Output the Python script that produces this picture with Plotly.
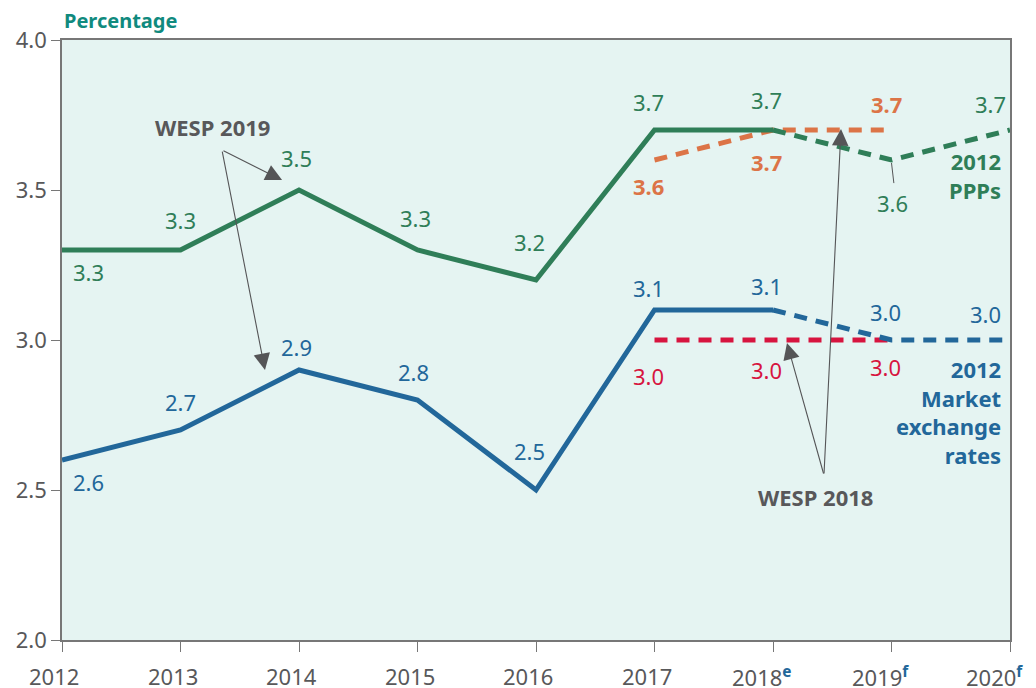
import plotly.graph_objects as go

years = [2012, 2013, 2014, 2015, 2016, 2017, 2018, 2019, 2020]
tick_labels = ["2012", "2013", "2014", "2015", "2016", "2017",
               "2018<sup><b><span style='color:#22679a'>e</span></b></sup>",
               "2019<sup><b><span style='color:#22679a'>f</span></b></sup>",
               "2020<sup><b><span style='color:#22679a'>f</span></b></sup>"]

# WESP 2019, 2012 PPPs
ppp_years = [2012, 2013, 2014, 2015, 2016, 2017, 2018]
ppp_vals = [3.3, 3.3, 3.5, 3.3, 3.2, 3.7, 3.7]
ppp_fc_years = [2018, 2019, 2020]
ppp_fc_vals = [3.7, 3.6, 3.7]

# WESP 2019, 2012 market exchange rates
mer_years = [2012, 2013, 2014, 2015, 2016, 2017, 2018]
mer_vals = [2.6, 2.7, 2.9, 2.8, 2.5, 3.1, 3.1]
mer_fc_years = [2018, 2019, 2020]
mer_fc_vals = [3.1, 3.0, 3.0]

# WESP 2018
w18_years = [2017, 2018, 2019]
w18_ppp_vals = [3.6, 3.7, 3.7]
w18_mer_vals = [3.0, 3.0, 3.0]

GREEN = "#2f7e58"
BLUE = "#22679a"
ORANGE = "#dc7447"
RED = "#d7143f"
GRAY = "#58585a"
TEAL = "#108a7e"
FONT = "Noto Sans"

fig = go.Figure()
dash = "13px,9px"
fig.add_trace(go.Scatter(x=w18_years, y=w18_ppp_vals, mode="lines",
                         line=dict(color=ORANGE, width=5, dash=dash), hoverinfo="skip"))
fig.add_trace(go.Scatter(x=w18_years, y=w18_mer_vals, mode="lines",
                         line=dict(color=RED, width=5, dash=dash), hoverinfo="skip"))
fig.add_trace(go.Scatter(x=ppp_fc_years, y=ppp_fc_vals, mode="lines",
                         line=dict(color=GREEN, width=5, dash=dash), hoverinfo="skip"))
fig.add_trace(go.Scatter(x=mer_fc_years, y=mer_fc_vals, mode="lines",
                         line=dict(color=BLUE, width=5, dash=dash), hoverinfo="skip"))
fig.add_trace(go.Scatter(x=ppp_years, y=ppp_vals, mode="lines",
                         line=dict(color=GREEN, width=5), hoverinfo="skip"))
fig.add_trace(go.Scatter(x=mer_years, y=mer_vals, mode="lines",
                         line=dict(color=BLUE, width=5), hoverinfo="skip"))

ann = []

def lab(x, y, color, dx, dy, bold=False):
    t = f"{y:.1f}"
    if bold:
        t = f"<b>{t}</b>"
    ann.append(dict(x=x, y=y, xref="x", yref="y", text=t, showarrow=False,
                    xshift=dx, yshift=dy, font=dict(family=FONT, size=22, color=color)))

# PPP labels (xshift, yshift in px)
ppp_off = [(26, -22), (0, 30), (-3, 32), (-2, 32), (-7, 38), (-6, 28), (-7, 30)]
for x, y, (dx, dy) in zip(ppp_years, ppp_vals, ppp_off):
    lab(x, y, GREEN, dx, dy)
lab(ppp_fc_years[1], ppp_fc_vals[1], GREEN, 1, -43)
lab(ppp_fc_years[2], ppp_fc_vals[2], GREEN, -20, 26)

mer_off = [(26, -22), (0, 28), (-3, 23), (-4, 28), (-7, 39), (-6, 22), (-7, 24)]
for x, y, (dx, dy) in zip(mer_years, mer_vals, mer_off):
    lab(x, y, BLUE, dx, dy)
lab(mer_fc_years[1], mer_fc_vals[1], BLUE, -6, 28)
lab(mer_fc_years[2], mer_fc_vals[2], BLUE, -25, 26)

w18p_off = [(-6, -26), (-7, -32), (-5, 26)]
for x, y, (dx, dy) in zip(w18_years, w18_ppp_vals, w18p_off):
    lab(x, y, ORANGE, dx, dy, bold=True)
w18m_off = [(-6, -36), (-7, -30), (-6, -27)]
for x, y, (dx, dy) in zip(w18_years, w18_mer_vals, w18m_off):
    lab(x, y, RED, dx, dy)

# Series names
ann.append(dict(x=2020, y=ppp_fc_vals[1], xref="x", yref="y", xanchor="right", align="right",
                text="<b>2012<br>PPPs</b>", showarrow=False, xshift=-7, yshift=-15,
                font=dict(family=FONT, size=22, color=GREEN)))
ann.append(dict(x=2020, y=mer_fc_vals[2], xref="x", yref="y", xanchor="right", align="right",
                text="<b>2012<br>Market<br>exchange<br>rates</b>", showarrow=False, xshift=-7, yshift=-72,
                font=dict(family=FONT, size=22, color=BLUE)))

# WESP callouts
ann.append(dict(x=2013.27, y=3.71, xref="x", yref="y", text="<b>WESP 2019</b>", showarrow=False,
                font=dict(family=FONT, size=22, color=GRAY)))
ann.append(dict(x=2018.36, y=2.477, xref="x", yref="y", text="<b>WESP 2018</b>", showarrow=False,
                font=dict(family=FONT, size=22, color=GRAY)))

arrows = [
    ((2013.35, 3.633), (2013.857, 3.533)),
    ((2013.35, 3.633), (2013.713, 2.90)),
    ((2018.43, 2.55), (2018.118, 2.99)),
    ((2018.43, 2.55), (2018.574, 3.703)),
]
for (tx, ty), (hx, hy) in arrows:
    ann.append(dict(x=hx, y=hy, ax=tx, ay=ty, xref="x", yref="y", axref="x", ayref="y",
                    text="", showarrow=True, arrowhead=2, arrowsize=3, arrowwidth=1.1,
                    arrowcolor="#555557", standoff=0))

# x-axis tick labels (drawn as annotations so they can sit slightly left of the ticks)
for i, (yr, txt) in enumerate(zip(years, tick_labels)):
    dx = -8
    if "sup" in txt:
        dx = -11
    if i == len(years) - 1:
        dx = -16
    ann.append(dict(x=yr, y=0, xref="x", yref="paper", yanchor="middle", yshift=-36, xshift=dx,
                    text=txt, showarrow=False, font=dict(family=FONT, size=22, color=GRAY)))

ann.append(dict(x=0, y=1, xref="paper", yref="paper", xanchor="left", yanchor="bottom",
                yshift=4, text="<b>Percentage</b>", showarrow=False,
                font=dict(family=FONT, size=20, color=TEAL)))

fig.update_layout(
    width=1036, height=688,
    margin=dict(l=62, r=26, t=40, b=48, autoexpand=False),
    paper_bgcolor="white", plot_bgcolor="#e5f4f2",
    showlegend=False, annotations=ann,
    shapes=[dict(type="line", xref="x", yref="y", x0=2019.0, y0=3.59, x1=2019.02, y1=3.523,
                 line=dict(color="#555557", width=1))],
    font=dict(family=FONT, color=GRAY),
)
fig.update_xaxes(range=[2012, 2020], tickvals=years, showticklabels=False, automargin=False,
                 showgrid=False, zeroline=False, showline=True, linecolor="#777777", linewidth=1.5,
                 mirror=True, ticks="outside", ticklen=10, tickcolor="#777777")
fig.update_yaxes(range=[2.0, 4.0], dtick=0.5, tickformat=".1f", automargin=False,
                 showgrid=False, zeroline=False, showline=True, linecolor="#777777", linewidth=1.5,
                 mirror=True, ticks="outside", ticklen=9, tickcolor="#777777",
                 tickfont=dict(family=FONT, size=22, color=GRAY))

fig.write_html("out.html", config={"displayModeBar": False},
               post_script="document.body.style.margin='0';")
